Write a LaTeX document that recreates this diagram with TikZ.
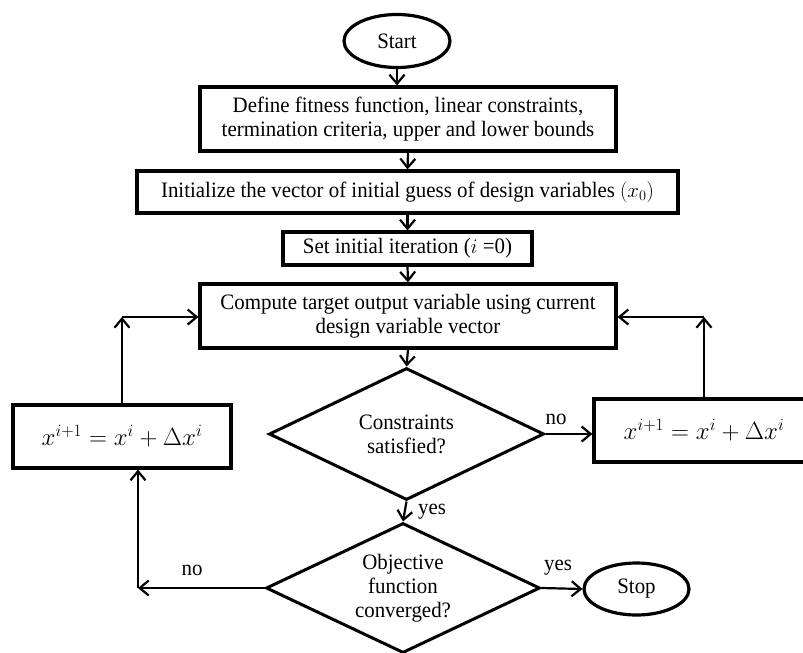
\documentclass[tikz,border=0pt]{standalone}
\usepackage{fontspec}
\setmainfont{Liberation Serif}[FakeStretch=0.95]
\usetikzlibrary{shapes.geometric,arrows.meta}
\begin{document}
\begin{tikzpicture}[x=1pt,y=-1pt,
  every node/.style={font=\fontsize{22}{24}\selectfont, align=center, inner sep=0pt},
  procbox/.style={draw, line width=3.2pt, rectangle},
  term/.style={draw, line width=3.2pt, ellipse},
  decision/.style={draw, line width=3pt, diamond, aspect=2.1},
  conn/.style={line width=2.2pt, -{Straight Barb[length=9pt,width=15pt,line width=2.2pt]}},
  lbl/.style={font=\fontsize{22}{24}\selectfont},
  mathbox/.style={font=\fontsize{23}{26}\selectfont}]
\useasboundingbox (0,0) rectangle (803,653);
\clip (0,0) rectangle (803,653);
\node[term, minimum width=106, minimum height=53] (start) at (397,41) {Start};
\node[procbox, minimum width=416, minimum height=64] (b1) at (408,119)
  {Define fitness function, linear constraints,\\termination criteria, upper and lower bounds};
\node[procbox, minimum width=541, minimum height=42] (b2) at (407.5,192)
  {Initialize the vector of initial guess of design variables $(x_0)$};
\node[procbox, minimum width=249, minimum height=33] (b3) at (407.5,248.5)
  {Set initial iteration ($i$ =0)};
\node[procbox, minimum width=416, minimum height=64] (b4) at (408,316)
  {Compute target output variable using current\\design variable vector};
\node[decision, minimum width=275, minimum height=132] (d1) at (406.5,434)
  {Constraints\\satisfied?};
\node[decision, minimum width=274, minimum height=130] (d2) at (403,588)
  {Objective\\function\\converged?};
\node[procbox, mathbox, minimum width=218, minimum height=63] (lb) at (122,436.5)
  {$x^{i+1} = x^i + \Delta x^i$};
\node[procbox, mathbox, minimum width=220, minimum height=63] (rb) at (704,430.5)
  {$x^{i+1} = x^i + \Delta x^i$};
\node[term, minimum width=105, minimum height=52] (stop) at (636.5,589) {Stop};
\coordinate (lc) at (122,317);
\coordinate (rc) at (704,317);
\coordinate (nc) at (138,588);

\draw[conn] (start.south) -- (start.south |- b1.north);
\draw[conn] (b1.south) -- (b2.north);
\draw[conn] (b2.south) -- (b3.north);
\draw[conn] (b3.south) -- (b4.north);
\draw[conn] (b4.south) -- (d1.north);
\draw[conn] (d1.east) -- (rb.west |- d1.east);
\node[lbl] (lno1) at (556,419) {no};
\draw[conn] (rb.north) -- (rc);
\draw[conn] (rc) -- (b4.east |- rc);
\draw[conn] (lb.north) -- (lc);
\draw[conn] (lc) -- (b4.west |- lc);
\draw[conn] (d1.south) -- (d2.north);
\node[lbl] (lyes1) at (432,512) {yes};
\draw[conn] (d2.west) -- (nc);
\node[lbl] (lno2) at (192,570) {no};
\draw[conn] (nc) -- (nc |- lb.south);
\draw[conn] (d2.east) -- (stop.west);
\node[lbl] (lyes2) at (558,568) {yes};
\end{tikzpicture}
\end{document}
